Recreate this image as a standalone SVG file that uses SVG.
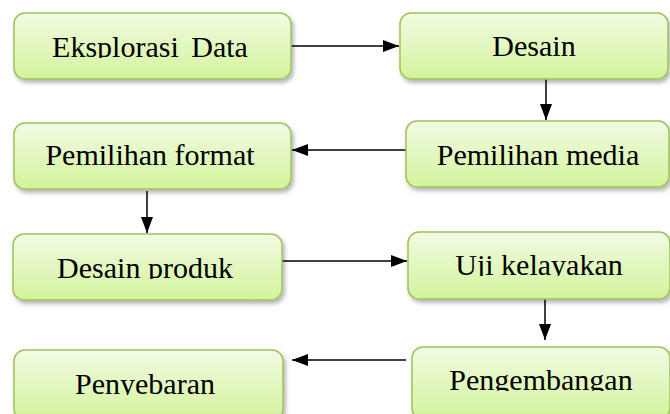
<svg xmlns="http://www.w3.org/2000/svg" width="670" height="414" viewBox="0 0 670 414">
<style>
.box{fill:url(#g);stroke:#9fc25a;stroke-width:1.5;filter:url(#sh)}
.t{font-family:"Liberation Serif","Times New Roman",serif;font-size:30px;fill:#000;text-anchor:middle}
.c{stroke:#000;stroke-width:1.5;fill:none;marker-end:url(#ah)}
</style>
<defs>
<linearGradient id="g" x1="0" y1="0" x2="0" y2="1">
<stop offset="0" stop-color="#f2fbe4"/>
<stop offset="1" stop-color="#d3f39b"/>
</linearGradient>
<filter id="sh" x="-10%" y="-20%" width="125%" height="150%">
<feDropShadow dx="2" dy="3" stdDeviation="2" flood-color="#000" flood-opacity="0.3"/>
</filter>
<marker id="ah" markerUnits="userSpaceOnUse" markerWidth="16" markerHeight="12" refX="16" refY="6" orient="auto">
<path d="M0,0 L16,6 L0,12 z" fill="#000"/>
</marker>
<clipPath id="c1"><rect x="0" y="13" width="670" height="45"/></clipPath>
<clipPath id="c2"><rect x="0" y="13" width="670" height="44"/></clipPath>
<clipPath id="c3"><rect x="0" y="121" width="670" height="46"/></clipPath>
<clipPath id="c4"><rect x="0" y="123" width="670" height="44"/></clipPath>
<clipPath id="c5"><rect x="0" y="234" width="670" height="45"/></clipPath>
<clipPath id="c6"><rect x="0" y="232" width="670" height="44"/></clipPath>
<clipPath id="c7"><rect x="0" y="350" width="670" height="45"/></clipPath>
<clipPath id="c8"><rect x="0" y="347" width="670" height="44"/></clipPath>
</defs>
<rect width="670" height="414" fill="#fff"/>
<g id="connectors">
<line class="c" x1="291" y1="46" x2="399" y2="46"/>
<line class="c" x1="546" y1="79" x2="546" y2="120"/>
<line class="c" x1="406" y1="150" x2="292" y2="150"/>
<line class="c" x1="147" y1="191" x2="147" y2="233"/>
<line class="c" x1="282" y1="261" x2="407" y2="261"/>
<line class="c" x1="545" y1="294" x2="545" y2="340"/>
<line class="c" x1="406" y1="360" x2="292" y2="360"/>
</g>
<g id="n1"><rect class="box" x="14" y="13" width="277" height="66" rx="11"/><text class="t" x="150" y="57" clip-path="url(#c1)" word-spacing="5">Eksplorasi Data</text></g>
<g id="n2"><rect class="box" x="400" y="13" width="268" height="66" rx="11"/><text class="t" x="534" y="56" clip-path="url(#c2)">Desain</text></g>
<g id="n3"><rect class="box" x="406" y="121" width="263" height="66" rx="11"/><text class="t" x="538" y="165" clip-path="url(#c3)">Pemilihan media</text></g>
<g id="n4"><rect class="box" x="14" y="123" width="277" height="66" rx="11"/><text class="t" x="150" y="165" clip-path="url(#c4)">Pemilihan format</text></g>
<g id="n5"><rect class="box" x="13" y="234" width="269" height="66" rx="11"/><text class="t" x="145" y="278" clip-path="url(#c5)">Desain produk</text></g>
<g id="n6"><rect class="box" x="408" y="232" width="262" height="67" rx="11"/><text class="t" x="539" y="275" clip-path="url(#c6)">Uji kelayakan</text></g>
<g id="n7"><rect class="box" x="14" y="350" width="269" height="70" rx="11"/><text class="t" x="145" y="394" clip-path="url(#c7)">Penyebaran</text></g>
<g id="n8"><rect class="box" x="412" y="347" width="258" height="72" rx="11"/><text class="t" x="541" y="390" clip-path="url(#c8)">Pengembangan</text></g>
</svg>
